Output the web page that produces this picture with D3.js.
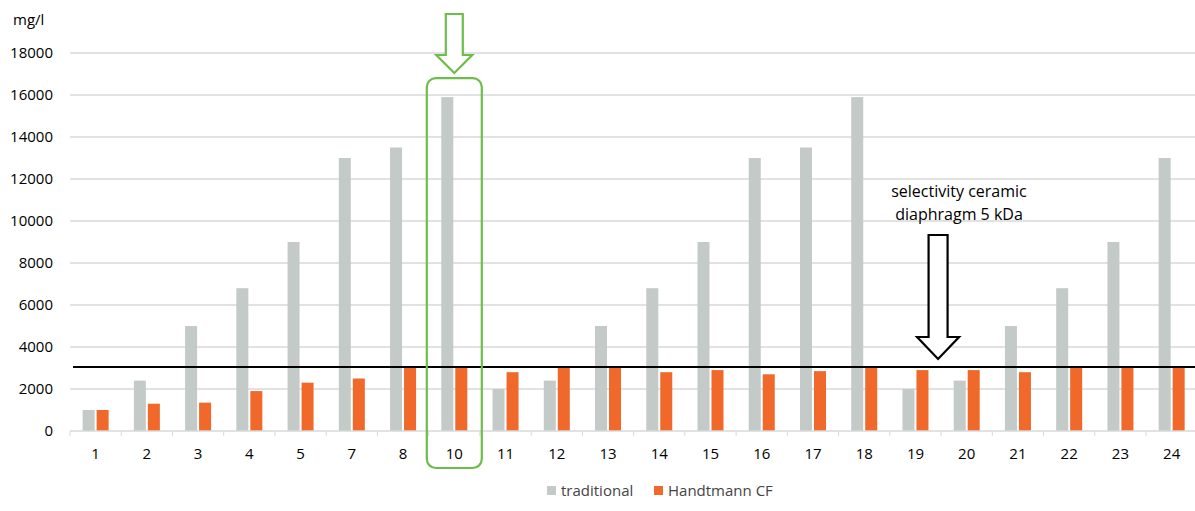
<!DOCTYPE html>
<html>
<head>
<meta charset="utf-8">
<script src="https://cdn.jsdelivr.net/npm/d3@7"></script>
<style>
  body { margin: 0; background: #fff; }
  text { font-family: "Open Sans", "Noto Sans", sans-serif; fill: #000; }
</style>
</head>
<body>
<div id="chart"></div>
<script>
var categories = ["1","2","3","4","5","7","8","10","11","12","13","14","15","16","17","18","19","20","21","22","23","24"];
var traditional = [1000,2400,5000,6800,9000,13000,13500,15900,2000,2400,5000,6800,9000,13000,13500,15900,2000,2400,5000,6800,9000,13000];
var handtmann = [1000,1300,1350,1900,2300,2500,3050,3050,2800,3050,3050,2800,2900,2700,2850,3050,2900,2900,2800,3050,3050,3050];
var yTicks = [0,2000,4000,6000,8000,10000,12000,14000,16000,18000];
var limitValue = 3050;
var seriesNames = ["traditional", "Handtmann CF"];

var W = 1195, H = 511;
var margin = {top: 53, right: 0, bottom: 80, left: 70};
var width = W - margin.left - margin.right;
var height = H - margin.top - margin.bottom;

var color = d3.scaleOrdinal().domain(seriesNames).range(["#c3cac7", "#f0682a"]);

var svg = d3.select("#chart").append("svg")
    .attr("width", W)
    .attr("height", H);

var g = svg.append("g")
    .attr("transform", "translate(" + margin.left + "," + margin.top + ")");

var x = d3.scaleBand().domain(categories).range([0, 22 * 51.24]).padding(0);
var y = d3.scaleLinear().domain([0, 18000]).range([height, 0]);

// grid
g.selectAll(".grid").data(yTicks.slice(1)).enter()
  .append("line")
    .attr("x1", 0).attr("x2", width)
    .attr("y1", function(d){ return y(d); })
    .attr("y2", function(d){ return y(d); })
    .style("stroke", "#d9d9d9")
    .style("stroke-width", 1.3);

// y labels
g.selectAll(".ylab").data(yTicks).enter()
  .append("text")
    .attr("x", -17)
    .attr("y", function(d){ return y(d); })
    .attr("dy", "0.35em")
    .attr("text-anchor", "end")
    .style("font-size", "15px")
    .text(function(d){ return d; });

svg.append("text")
  .attr("x", 13).attr("y", 25)
  .style("font-size", "15px")
  .text("mg/l");

// bars
var bw = 12, gap = 2;
var groups = g.selectAll(".cat").data(categories).enter()
  .append("g")
    .attr("transform", function(d){ return "translate(" + (x(d) + x.bandwidth()/2) + ",0)"; });

groups.append("rect")
    .attr("x", -bw - gap/2)
    .attr("width", bw)
    .attr("y", function(d, i){ return y(traditional[i]); })
    .attr("height", function(d, i){ return height - y(traditional[i]); })
    .style("fill", color("traditional"));

groups.append("rect")
    .attr("x", gap/2)
    .attr("width", bw)
    .attr("y", function(d, i){ return y(handtmann[i]); })
    .attr("height", function(d, i){ return height - y(handtmann[i]); })
    .style("fill", color("Handtmann CF"));

// x axis
g.append("line")
  .attr("x1", 0).attr("x2", width)
  .attr("y1", height).attr("y2", height)
  .style("stroke", "#d9d9d9").style("stroke-width", 1.3);

g.selectAll(".tick").data(categories.concat(["end"])).enter()
  .append("line")
    .attr("x1", function(d, i){ return i * x.step(); })
    .attr("x2", function(d, i){ return i * x.step(); })
    .attr("y1", height).attr("y2", height + 5)
    .style("stroke", "#d9d9d9");

g.selectAll(".xlab").data(categories).enter()
  .append("text")
    .attr("x", function(d){ return x(d) + x.bandwidth()/2; })
    .attr("y", height + 28)
    .attr("text-anchor", "middle")
    .style("font-size", "15px")
    .text(function(d){ return d; });

// limit line
g.append("line")
  .attr("x1", 3).attr("x2", width)
  .attr("y1", y(limitValue)).attr("y2", y(limitValue))
  .style("stroke", "#000").style("stroke-width", 2);

// green highlight on 10
var cx10 = x("10") + x.bandwidth()/2;
var green = "#6dbd4a";
g.append("rect")
  .attr("x", cx10 - 27.5).attr("y", y(16800))
  .attr("width", 55).attr("height", height - y(16800) + 37)
  .attr("rx", 9).attr("ry", 9)
  .style("fill", "none").style("stroke", green).style("stroke-width", 2.2);

function downArrow(cx, top, shaftW, headW, shaftBottom, tip) {
  return "M" + (cx - shaftW/2) + "," + top +
    "L" + (cx + shaftW/2) + "," + top +
    "L" + (cx + shaftW/2) + "," + shaftBottom +
    "L" + (cx + headW/2) + "," + shaftBottom +
    "L" + cx + "," + tip +
    "L" + (cx - headW/2) + "," + shaftBottom +
    "L" + (cx - shaftW/2) + "," + shaftBottom + "Z";
}

svg.append("path")
  .attr("d", downArrow(margin.left + cx10, 14, 17, 36, 55, 73))
  .style("fill", "#fff").style("stroke", green).style("stroke-width", 2.2);

// selectivity annotation
var ax = margin.left + (x("19") + x.step());
svg.append("path")
  .attr("d", downArrow(ax - 3, 235, 19, 42, 337, 359))
  .style("fill", "#fff").style("stroke", "#000").style("stroke-width", 2.2);

svg.append("text")
  .attr("x", 959).attr("y", 197)
  .attr("text-anchor", "middle")
  .style("font-size", "16px")
  .text("selectivity ceramic");
svg.append("text")
  .attr("x", 959).attr("y", 220)
  .attr("text-anchor", "middle")
  .style("font-size", "16px")
  .text("diaphragm 5 kDa");

// legend
var legend = svg.selectAll(".legend").data(seriesNames).enter()
  .append("g")
    .attr("transform", function(d, i){ return "translate(" + (i === 0 ? 547 : 654) + ",486)"; });

legend.append("rect")
  .attr("width", 9).attr("height", 9)
  .style("fill", color);

legend.append("text")
  .attr("x", 14).attr("y", 10)
  .style("font-size", "15px")
  .style("fill", "#444")
  .text(function(d){ return d; });
</script>
</body>
</html>
